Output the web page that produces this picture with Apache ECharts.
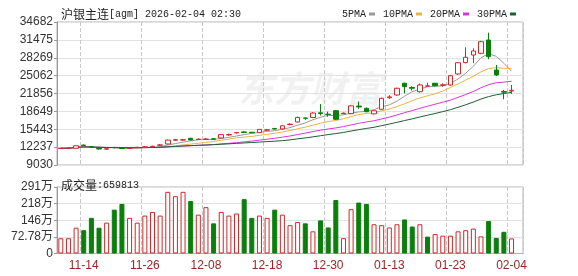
<!DOCTYPE html>
<html><head><meta charset="utf-8">
<script src="https://cdn.jsdelivr.net/npm/echarts@6/dist/echarts.min.js"></script>
<style>html,body{margin:0;padding:0;background:#fff}#c{width:578px;height:276px}</style>
</head><body><div id="c"></div>
<script>
const categories = ['11-11','11-12','11-13','11-14','11-17','11-18','11-19','11-20','11-21','11-24','11-25','11-26','11-27','11-28','12-01','12-02','12-03','12-04','12-05','12-08','12-09','12-10','12-11','12-12','12-15','12-16','12-17','12-18','12-19','12-22','12-23','12-24','12-25','12-26','12-29','12-30','12-31','01-05','01-06','01-07','01-08','01-09','01-12','01-13','01-14','01-15','01-16','01-19','01-20','01-21','01-22','01-23','01-26','01-27','01-28','01-29','01-30','02-02','02-03','02-04'];
// [open, close, low, high]
const candles = [
[11980,12030,11940,12080],[12000,12050,11920,12150],[12030,12480,11990,12560],[12600,12540,12450,12680],[12300,12200,12120,12360],
[11990,11900,11820,12060],[11880,11950,11800,12020],[12190,12130,12020,12280],[12080,11990,11920,12130],[11980,12060,11900,12120],
[12150,12210,12090,12260],[12230,12290,12150,12380],[12320,12380,12260,12490],[12570,12640,12500,12770],[12800,13500,12720,13600],
[13480,13560,13380,13700],[13500,13570,13400,13720],[13820,13520,13450,13900],[13600,13660,13520,13800],[13620,13690,13540,13830],
[13720,13660,13600,13780],[13880,14480,13820,14560],[14420,14480,14300,14650],[14800,14850,14700,14920],[14950,14880,14760,15060],
[14900,14820,14760,14950],[14830,15420,14780,15500],[15280,15340,15200,15480],[15560,15500,15400,15700],[15500,16060,15420,16150],
[16280,16350,16150,16500],[16750,17560,16650,17700],[17460,17420,17150,17480],[17550,18350,17450,18500],[18400,18250,17900,19950],
[18150,18080,17700,18600],[18770,17230,17100,18900],[18250,18330,18150,18420],[18250,19640,18150,19750],[19600,19450,19100,20400],
[19200,18590,18500,19350],[18200,18760,18100,18850],[19030,20990,18950,21100],[21100,21250,20900,21550],[21590,22790,21450,22900],
[23690,23080,21880,23800],[22950,22800,22400,23150],[22180,23380,22000,23650],[23180,23220,23150,23780],[23690,23260,23150,23780],
[23330,23420,23100,23680],[23380,25050,23250,25200],[25360,27380,25200,27500],[27400,28350,27250,30150],[28760,29480,27300,29960],
[29070,31150,28900,31300],[31450,28460,28000,32760],[26070,25180,25000,26970],[22200,22100,20820,22490],[22300,22420,21770,23380]
];
const volumes = [667000,670000,1130000,1020000,1560000,1130000,1350000,1920000,2170000,1560000,
1350000,1660000,1820000,1660000,2700000,2510000,2700000,2300000,1700000,2030000,
1320000,1820000,1660000,1750000,2380000,1560000,1660000,1560000,1920000,1700000,
1240000,1380000,1320000,970000,1450000,1140000,2340000,670000,1940000,2230000,
2170000,1280000,1240000,1140000,1280000,1490000,1180000,1280000,740000,850000,
780000,780000,970000,1020000,1090000,750000,1420000,680000,950000,659813];
// 1 = rising bar (hollow red), 0 = falling bar (green)
const volumeRise = [1,1,1,0,0,0,1,0,0,1, 1,1,1,1,1,1,1,0,1,1, 0,1,1,1,0,0,1,1,0,1,
1,1,0,1,0,0,0,1,1,0, 0,1,1,1,1,0,0,1,0,1, 1,1,1,1,1,1,0,0,0,1];
const priceTicks = [9030,12237,15443,18649,21856,25062,28269,31475,34682];
const volumeTickLabels = ['0','72.78万','146万','218万','291万'];
const maPeriods = [5,10,20,30];
const maNames = ['5PMA','10PMA','20PMA','30PMA'];
const maColors = ['#999999','#e8b44a','#dd33dd','#1d5e33'];

const UP='#d02828', DOWN='#0b7f0b';
const closes = candles.map(c=>c[1]);
function ma(n){
  return closes.map((c,i)=>{const s=Math.max(0,i-n+1);let sum=0;for(let j=s;j<=i;j++)sum+=closes[j];return +(sum/(i-s+1)).toFixed(1);});
}
const axisCats = categories.concat(['']);
const showIdx = (i)=> i<categories.length && (i-3)%8===0;

const chart = echarts.init(document.getElementById('c'), null, {renderer:'canvas'});
const monoFont = 'Liberation Mono, DejaVu Sans Mono, monospace';
const cjkFont = 'Noto Sans CJK SC, sans-serif';
const series = [{
  type:'candlestick', xAxisIndex:0, yAxisIndex:0, data:candles, barWidth:5,
  itemStyle:{color:'#ffffff',color0:DOWN,borderColor:UP,borderColor0:DOWN,borderWidth:1},
  z:5
}];
maPeriods.forEach((p,k)=>{
  series.push({type:'line',name:maNames[k],data:ma(p),xAxisIndex:0,yAxisIndex:0,symbol:'none',
    lineStyle:{width:1,color:maColors[k]},itemStyle:{color:maColors[k]},z:4});
});
series.push({type:'bar',xAxisIndex:1,yAxisIndex:1,barWidth:5,
  data:volumes.map((v,i)=>({value:v,itemStyle: volumeRise[i]?{color:'#ffffff',borderColor:UP,borderWidth:1}:{color:DOWN,borderColor:DOWN,borderWidth:1}}))});

chart.setOption({
  animation:false,
  title:[
    {left:56,top:3,text:'{c|沪银主连}{a|[agm] 2026-02-04 02:30}',
     textStyle:{fontWeight:'normal',rich:{c:{fontFamily:cjkFont,fontSize:12,fontWeight:'normal',color:'#222'},a:{fontFamily:monoFont,fontSize:10,fontWeight:'normal',color:'#222'}}}},
    {left:56,top:174,text:'{c|成交量}{a|:659813}',
     textStyle:{fontWeight:'normal',rich:{c:{fontFamily:cjkFont,fontSize:12,fontWeight:'normal',color:'#222'},a:{fontFamily:monoFont,fontSize:10,fontWeight:'normal',color:'#222'}}}}
  ],
  legend:{left:337,top:4,align:'right',icon:'rect',itemWidth:6,itemHeight:3,itemGap:8,
    textStyle:{fontFamily:monoFont,fontSize:10,color:'#222',padding:[0,-2,0,0]},data:maNames},
  graphic:[{type:'text',left:238,top:70,z:0,silent:true,
    style:{text:'东方财富',fontSize:36,fontWeight:'bold',fontStyle:'italic',fontFamily:cjkFont,fill:'rgba(0,0,0,0.055)'}}],
  grid:[
    {left:57,right:55,top:22,height:143,show:true,borderColor:'#b0b0b0',borderWidth:1},
    {left:57,right:55,top:187,height:66.5,show:true,borderColor:'#b0b0b0',borderWidth:1}
  ],
  xAxis:[
    {type:'category',gridIndex:0,data:axisCats,boundaryGap:true,axisLine:{show:false},axisTick:{show:false},axisLabel:{show:false},
     splitLine:{show:true,interval:(i)=>showIdx(i),lineStyle:{type:'dashed',color:'#c8c8c8'}}},
    {type:'category',gridIndex:1,data:axisCats,boundaryGap:true,axisLine:{show:true,lineStyle:{color:'#b0b0b0'}},axisTick:{show:false},
     axisLabel:{interval:(i)=>showIdx(i),color:'#9b2525',fontSize:12,fontFamily:'Liberation Sans, Arial, sans-serif',margin:6},
     splitLine:{show:true,interval:(i)=>showIdx(i),lineStyle:{type:'dashed',color:'#c8c8c8'}}}
  ],
  yAxis:[
    {type:'value',gridIndex:0,min:priceTicks[0],max:priceTicks[priceTicks.length-1],scale:true,
     axisLine:{show:true,lineStyle:{color:'#999'}},
     axisTick:{show:true,length:3,customValues:priceTicks,lineStyle:{color:'#999'}},
     axisLabel:{customValues:priceTicks,color:'#333',fontSize:12,fontFamily:'Liberation Sans, Arial, sans-serif',margin:4,
       formatter:(v)=>String(Math.round(v))},
     splitLine:{show:true,lineStyle:{color:'#e2e2e2'}}},
    {type:'value',gridIndex:1,min:0,max:2911200,interval:727800,
     axisLine:{show:true,lineStyle:{color:'#999'}},
     axisTick:{show:true,length:3,lineStyle:{color:'#999'}},
     axisLabel:{color:'#333',fontSize:12,fontFamily:'Liberation Sans, Noto Sans CJK SC, sans-serif',margin:4,
       formatter:(v)=>volumeTickLabels[Math.round(v/727800)]},
     splitLine:{show:true,lineStyle:{color:'#e2e2e2'}}}
  ],
  series:series
});
</script></body></html>
